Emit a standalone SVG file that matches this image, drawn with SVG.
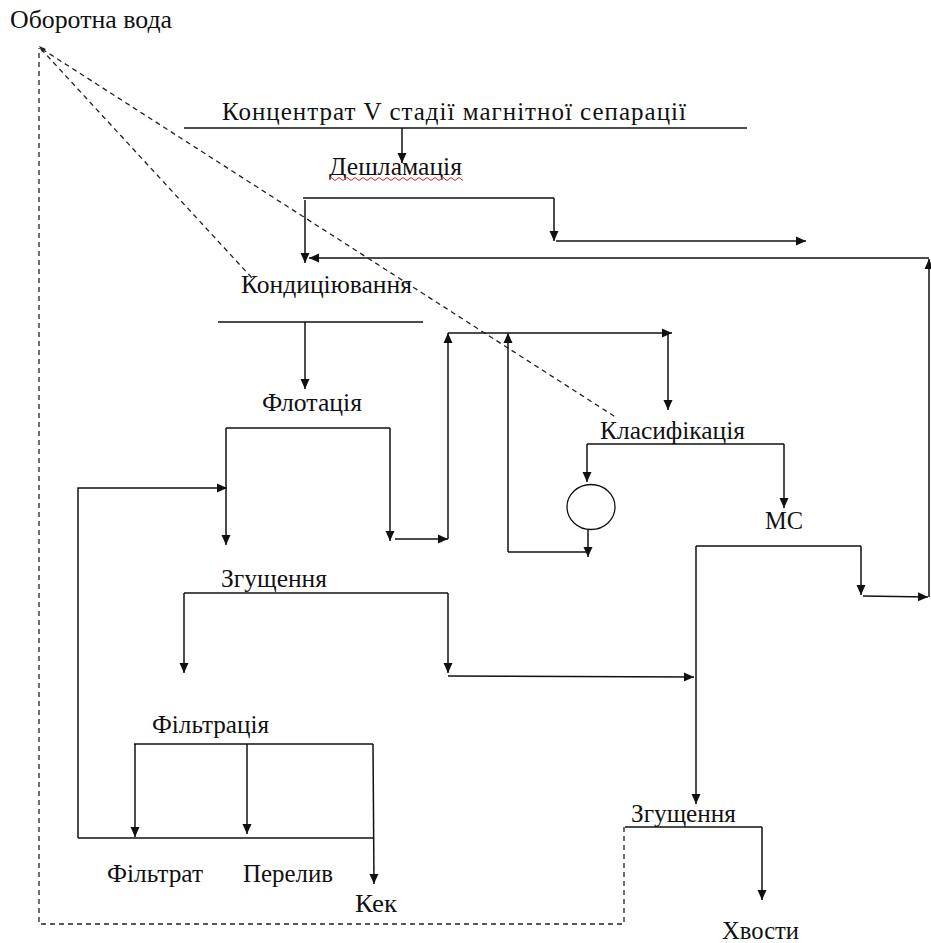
<svg xmlns="http://www.w3.org/2000/svg" width="931" height="943" viewBox="0 0 931 943">
<style>
.t{font-size:25px;fill:#111}
.ln{fill:none;stroke:#111;stroke-width:1.5}
.ar{fill:none;stroke:#111;stroke-width:1.5;marker-end:url(#ah)}
.ds{fill:none;stroke:#222;stroke-width:1.3;stroke-dasharray:5 4}
</style>
<defs>
<marker id="ah" markerUnits="userSpaceOnUse" markerWidth="10" markerHeight="10" refX="10" refY="4.5" orient="auto" viewBox="0 0 10 9">
<path d="M0,0 L10,4.5 L0,9 z" fill="#111"/>
</marker>
</defs>
<rect width="931" height="943" fill="#fff"/>
<g id="connectors">
<path class="ar" d="M402,128 L402,163"/>
<path class="ar" d="M305,200 L305,263"/>
<path class="ar" d="M554,198 L554,241"/>
<path class="ar" d="M556,241 L806,241"/>
<path class="ar" d="M863,596 L928,597"/>
<path class="ar" d="M929,597 L929,259"/>
<path class="ar" d="M929,258 L309,258"/>
<path class="ar" d="M305,322 L305,389"/>
<path class="ar" d="M226,428 L226,545"/>
<path class="ar" d="M390,428 L390,541"/>
<path class="ar" d="M395,539 L448,539"/>
<path class="ar" d="M448,539 L448,333"/>
<path class="ar" d="M448,333 L672,333"/>
<path class="ar" d="M668,333 L668,410"/>
<path class="ar" d="M508,552 L508,333"/>
<path class="ln" d="M508,552 L588,552"/>
<path class="ar" d="M588,530 L588,557"/>
<path class="ar" d="M587,444 L587,482"/>
<path class="ar" d="M784,444 L784,508"/>
<path class="ar" d="M861,546 L861,595"/>
<path class="ar" d="M696,546 L696,804"/>
<path class="ar" d="M184,593 L184,673"/>
<path class="ar" d="M448,593 L448,673"/>
<path class="ar" d="M448,676 L694,677"/>
<path class="ar" d="M78,838 L78,488 L227,488"/>
<path class="ar" d="M135,744 L135,837"/>
<path class="ar" d="M247,744 L247,834"/>
<path class="ar" d="M373,744 L374,884"/>
<path class="ln" d="M78,838 L373,838"/>
<path class="ar" d="M762,827 L762,900"/>
<path class="ds" d="M624,827 L624,924 L39,924 L39,48"/>
<path class="ds" d="M41,49 L252,278"/>
<path class="ds" d="M42,49 L617,418"/>
<path d="M39,46 L46,49 L42,52 z" fill="#222"/>
</g>
<g font-family="'Liberation Serif', 'Times New Roman', Times, serif">
<g id="n-oborotna"><text class="t" x="10" y="28" textLength="162" lengthAdjust="spacingAndGlyphs">Оборотна вода</text></g>
<g id="n-koncentrat"><text class="t" x="222" y="120" textLength="464" lengthAdjust="spacing">Концентрат V стадії магнітної сепарації</text><path class="ln" d="M184,128 L747,128"/></g>
<g id="n-deshlam"><text class="t" x="329" y="175" textLength="133" lengthAdjust="spacingAndGlyphs">Дешламація</text><path d="M329,179 l2,-1.5 l2,1.5 l2,1.5 l2,-1.5 l2,-1.5 l2,1.5 l2,1.5 l2,-1.5 l2,-1.5 l2,1.5 l2,1.5 l2,-1.5 l2,-1.5 l2,1.5 l2,1.5 l2,-1.5 l2,-1.5 l2,1.5 l2,1.5 l2,-1.5 l2,-1.5 l2,1.5 l2,1.5 l2,-1.5 l2,-1.5 l2,1.5 l2,1.5 l2,-1.5 l2,-1.5 l2,1.5 l2,1.5 l2,-1.5 l2,-1.5 l2,1.5 l2,1.5 l2,-1.5 l2,-1.5 l2,1.5 l2,1.5 l2,-1.5 l2,-1.5 l2,1.5 l2,1.5 l2,-1.5 l2,-1.5 l2,1.5 l2,1.5 l2,-1.5 l2,-1.5 l2,1.5 l2,1.5 l2,-1.5 l2,-1.5 l2,1.5 l2,1.5 l2,-1.5 l2,-1.5 l2,1.5 l2,1.5 l2,-1.5 l2,-1.5 l2,1.5 l2,1.5 l2,-1.5 l2,-1.5 l2,1.5 l2,1.5" fill="none" stroke="#e02020" stroke-width="1"/><path class="ln" d="M303,198 L554,198"/></g>
<g id="n-kond"><text class="t" x="241" y="293" textLength="171" lengthAdjust="spacingAndGlyphs">Кондиціювання</text><path class="ln" d="M218,322 L423,322"/></g>
<g id="n-flot"><text class="t" x="262" y="411" textLength="100" lengthAdjust="spacingAndGlyphs">Флотація</text><path class="ln" d="M226,428 L390,428"/></g>
<g id="n-klas"><text class="t" x="600" y="439" textLength="145" lengthAdjust="spacingAndGlyphs">Класифікація</text><path class="ln" d="M587,444 L784,444"/></g>
<g id="n-circle"><ellipse cx="591" cy="507" rx="24" ry="22.5" fill="#fff" stroke="#111" stroke-width="1.3"/></g>
<g id="n-ms"><text class="t" x="765" y="529" textLength="38" lengthAdjust="spacingAndGlyphs">МС</text><path class="ln" d="M696,546 L861,546"/></g>
<g id="n-zgush1"><text class="t" x="221" y="587" textLength="106" lengthAdjust="spacingAndGlyphs">Згущення</text><path class="ln" d="M184,593 L448,593"/></g>
<g id="n-filtr"><text class="t" x="152" y="733" textLength="117" lengthAdjust="spacingAndGlyphs">Фільтрація</text><path class="ln" d="M134,744 L373,744"/></g>
<g id="n-filtrat"><text class="t" x="107" y="882" textLength="96" lengthAdjust="spacingAndGlyphs">Фільтрат</text></g>
<g id="n-pereliv"><text class="t" x="243" y="882" textLength="90" lengthAdjust="spacingAndGlyphs">Перелив</text></g>
<g id="n-kek"><text class="t" x="355" y="912" textLength="42" lengthAdjust="spacingAndGlyphs">Кек</text></g>
<g id="n-zgush2"><text class="t" x="631" y="822" textLength="105" lengthAdjust="spacingAndGlyphs">Згущення</text><path class="ln" d="M625,827 L762,827"/></g>
<g id="n-hvosty"><text class="t" x="722" y="939" textLength="77" lengthAdjust="spacingAndGlyphs">Хвости</text></g>
</g>
</svg>
